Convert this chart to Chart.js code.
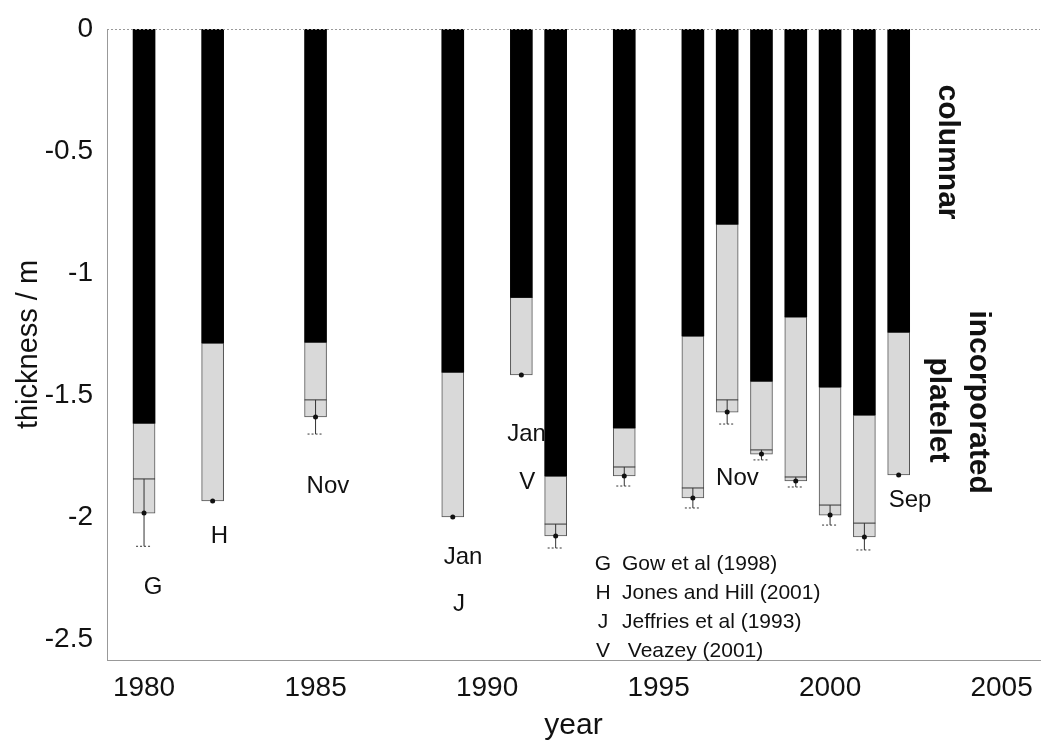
<!DOCTYPE html>
<html>
<head>
<meta charset="utf-8">
<script src="https://cdn.jsdelivr.net/npm/chart.js@4.4.1/dist/chart.umd.min.js"></script>
<style>
  html, body { margin: 0; padding: 0; background: #fff; }
  #wrap { width: 1048px; height: 746px; }
</style>
</head>
<body>
<div id="wrap"><canvas id="iceChart" width="1048" height="746"></canvas></div>
<script>
// sea ice core thickness, columnar + incorporated platelet
const years = [1980, 1982, 1985, 1989, 1991, 1992, 1994, 1996, 1997, 1998, 1999, 2000, 2001, 2002];
const columnar = [-1.615, -1.287, -1.283, -1.406, -1.10, -1.832, -1.635, -1.258, -0.80, -1.443, -1.18, -1.467, -1.582, -1.242];
const total = [-1.984, -1.934, -1.59, -2.0, -1.418, -2.078, -1.832, -1.922, -1.57, -1.742, -1.852, -1.992, -2.082, -1.828];
const errTop = [-1.844, null, -1.52, null, null, -2.029, -1.795, -1.881, -1.52, -1.725, -1.836, -1.951, -2.025, null];
const errBottom = [-2.12, null, -1.66, null, null, -2.127, -1.873, -1.963, -1.619, -1.766, -1.877, -2.033, -2.135, null];

const xTicks = [1980, 1985, 1990, 1995, 2000, 2005];
const yTicks = [0, -0.5, -1, -1.5, -2, -2.5];

// text notes placed in data coordinates
const noteText = ['G', 'H', 'Nov', 'Jan', 'J', 'Jan', 'V', 'Nov', 'Sep'];
const noteYear = [1980.26, 1982.2, 1985.36, 1989.3, 1989.18, 1991.15, 1991.17, 1997.3, 2002.33];
const noteDepth = [-2.287, -2.08, -1.873, -2.164, -2.36, -1.66, -1.857, -1.84, -1.93];

const legendKeys = ['G', 'H', 'J', 'V'];
const legendNames = ['Gow et al (1998)', 'Jones and Hill (2001)', 'Jeffries et al (1993)', ' Veazey (2001)'];
const legendYear = 1993.38;
const legendDepth = [-2.193, -2.311, -2.43, -2.549];

const sideText = ['columnar', 'incorporated', 'platelet'];
const sideYear = [2003.41, 2004.31, 2003.15];
const sideDepth = [-0.504, -1.529, -1.561];

const FONT = "'Liberation Sans', Arial, Helvetica, sans-serif";

const overlay = {
  id: 'overlay',
  afterDatasetsDraw(chart) {
    const { ctx, chartArea, scales: { x, y } } = chart;
    ctx.save();

    // top frame line
    ctx.strokeStyle = '#999';
    ctx.lineWidth = 1;
    ctx.setLineDash([2, 2]);
    ctx.beginPath();
    ctx.moveTo(chartArea.left, chartArea.top + 0.5);
    ctx.lineTo(chartArea.right, chartArea.top + 0.5);
    ctx.stroke();
    ctx.setLineDash([]);

    // error bars and end dots
    years.forEach((yr, i) => {
      const px = x.getPixelForValue(yr);
      const half = 11;
      ctx.strokeStyle = '#333';
      ctx.lineWidth = 1;
      if (errTop[i] !== null) {
        const t = y.getPixelForValue(errTop[i]);
        const b = y.getPixelForValue(errBottom[i]);
        ctx.beginPath();
        ctx.moveTo(px - half, t);
        ctx.lineTo(px + half, t);
        ctx.moveTo(px, t);
        ctx.lineTo(px, b);
        ctx.stroke();
        ctx.setLineDash([2, 2]);
        ctx.beginPath();
        ctx.moveTo(px - 8, b);
        ctx.lineTo(px + 8, b);
        ctx.stroke();
        ctx.setLineDash([]);
      }
      ctx.fillStyle = '#111';
      ctx.beginPath();
      ctx.arc(px, y.getPixelForValue(total[i]), 2.5, 0, Math.PI * 2);
      ctx.fill();
    });

    // notes
    ctx.fillStyle = '#111';
    ctx.textAlign = 'center';
    ctx.textBaseline = 'middle';
    ctx.font = '24px ' + FONT;
    noteText.forEach((t, i) => {
      ctx.fillText(t, x.getPixelForValue(noteYear[i]), y.getPixelForValue(noteDepth[i]));
    });

    // key
    ctx.font = '21px ' + FONT;
    legendKeys.forEach((k, i) => {
      const py = y.getPixelForValue(legendDepth[i]);
      const px = x.getPixelForValue(legendYear);
      ctx.textAlign = 'center';
      ctx.fillText(k, px, py);
      ctx.textAlign = 'left';
      ctx.fillText(legendNames[i], px + 19, py);
    });

    // rotated layer labels
    ctx.font = 'bold 30px ' + FONT;
    ctx.textAlign = 'center';
    sideText.forEach((t, i) => {
      ctx.save();
      ctx.translate(x.getPixelForValue(sideYear[i]), y.getPixelForValue(sideDepth[i]));
      ctx.rotate(Math.PI / 2);
      ctx.fillText(t, 0, 0);
      ctx.restore();
    });

    ctx.restore();
  }
};

const ctx = document.getElementById('iceChart').getContext('2d');
new Chart(ctx, {
  type: 'bar',
  data: {
    datasets: [
      {
        label: 'columnar',
        data: years.map((yr, i) => ({ x: yr, y: [0, columnar[i]] })),
        backgroundColor: '#000',
        borderWidth: 0,
        barThickness: 22,
        grouped: false
      },
      {
        label: 'incorporated platelet',
        data: years.map((yr, i) => ({ x: yr, y: [columnar[i], total[i]] })),
        backgroundColor: '#d9d9d9',
        borderColor: '#555',
        borderWidth: 1,
        borderSkipped: false,
        barThickness: 22,
        grouped: false
      }
    ]
  },
  options: {
    responsive: false,
    animation: false,
    layout: { padding: { top: 29, right: 8, left: 0, bottom: 0 } },
    plugins: {
      legend: { display: false },
      tooltip: { enabled: false }
    },
    scales: {
      x: {
        type: 'linear',
        offset: false,
        min: 1978.92,
        max: 2006.12,
        afterBuildTicks: s => { s.ticks = xTicks.map(v => ({ value: v })); },
        afterFit: s => { s.height = 86; },
        grid: { display: false },
        border: { display: true, color: '#999', dash: [2, 2] },
        ticks: { color: '#111', font: { size: 28, family: FONT }, padding: 3, maxRotation: 0, callback: v => String(v) },
        title: { display: true, text: 'year', color: '#111', font: { size: 30, family: FONT }, padding: { top: 0, bottom: 2 } }
      },
      y: {
        min: -2.586,
        max: 0,
        afterBuildTicks: s => { s.ticks = yTicks.map(v => ({ value: v })); },
        afterFit: s => { s.width = 107; },
        grid: { display: false },
        border: { display: true, color: '#999', dash: [2, 2] },
        ticks: { color: '#111', font: { size: 28, family: FONT }, padding: 6, callback: v => String(v) },
        title: { display: true, text: 'thickness / m', color: '#111', font: { size: 29, family: FONT }, padding: { top: 12, bottom: 0 } }
      }
    }
  },
  plugins: [overlay]
});
</script>
</body>
</html>
